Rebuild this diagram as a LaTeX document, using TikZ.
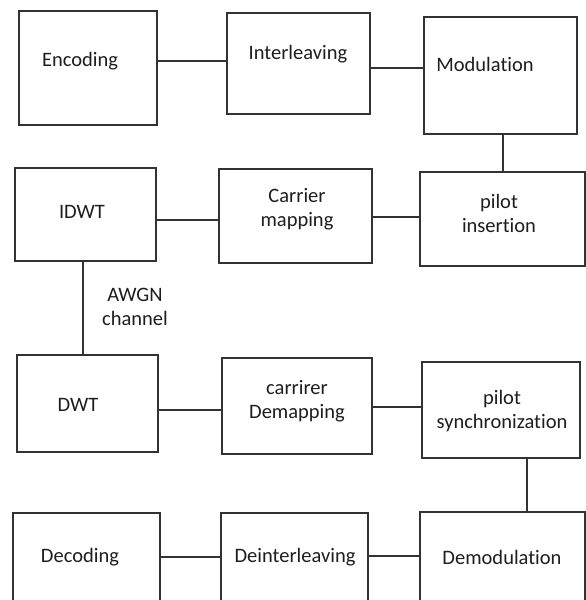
\documentclass[tikz,border=0pt]{standalone}
\usepackage{fontspec}
\setmainfont{Carlito}[Ligatures=NoCommon]
\definecolor{linec}{HTML}{333333}
\definecolor{txtc}{HTML}{1E1E1E}
\begin{document}
\begin{tikzpicture}[x=1pt,y=-1pt,
  blk/.style={draw=linec,line width=1.3pt,inner sep=0pt},
  txt/.style={inner sep=0pt,text=txtc,font=\fontsize{20.5}{24}\selectfont,align=center},
  conn/.style={draw=linec,line width=1.2pt}]
\useasboundingbox (0,0) rectangle (586,600);
\clip (0,0) rectangle (586,600);
\fill[white] (0,0) rectangle (586,600);
% row 1
\node[blk,minimum width=138pt,minimum height=114pt] (enc) at (88,68) {};
\node[txt] (enct) at (80,61) {Encoding};
\node[blk,minimum width=143pt,minimum height=101pt] (intl) at (298.5,63.5) {};
\node[txt] (intlt) at (298,54) {Interleaving};
\node[blk,minimum width=153pt,minimum height=117pt] (mod) at (500.5,75.5) {};
\node[txt] (modt) at (485,64) {Modulation};
% row 2
\node[blk,minimum width=141pt,minimum height=93pt] (idwt) at (85.5,214.5) {};
\node[txt] (idwtt) at (82,212) {IDWT};
\node[blk,minimum width=153pt,minimum height=94pt] (cmap) at (295.5,216) {};
\node[txt] (cmapt) at (297,209) {Carrier\\mapping};
\node[blk,minimum width=165pt,minimum height=94pt] (pilot) at (502.5,219) {};
\node[txt] (pilott) at (499,213) {pilot\\insertion};
% AWGN
\node[txt] (awgn) at (135,307) {AWGN\\channel};
% row 3
\node[blk,minimum width=141pt,minimum height=97pt] (dwt) at (87.5,403.5) {};
\node[txt] (dwtt) at (78,405) {DWT};
\node[blk,minimum width=150pt,minimum height=96pt] (cdem) at (297,406) {};
\node[txt] (cdemt) at (297,401) {carrirer\\Demapping};
\node[blk,minimum width=158pt,minimum height=96pt] (psync) at (501,410) {};
\node[txt] (psynct) at (502,411) {pilot\\synchronization};
% row 4
\node[blk,minimum width=147pt,minimum height=100pt] (dec) at (86.5,563) {};
\node[txt] (dect) at (80,557) {Decoding};
\node[blk,minimum width=147pt,minimum height=100pt] (deint) at (294.5,563) {};
\node[txt] (deintt) at (295,557) {Deinterleaving};
\node[blk,minimum width=165pt,minimum height=100pt] (demod) at (502.5,562) {};
\node[txt] (demodt) at (502,557) {Demodulation};
% connectors
\draw[conn] (enc.east |- 0,61) -- (intl.west |- 0,61);
\draw[conn] (intl.east |- 0,68) -- (mod.west |- 0,68);
\draw[conn] (mod.south -| 503,0) -- (pilot.north -| 503,0);
\draw[conn] (idwt.east |- 0,220) -- (cmap.west |- 0,220);
\draw[conn] (cmap.east |- 0,217) -- (pilot.west |- 0,217);
\draw[conn] (idwt.south -| 83,0) -- (dwt.north -| 83,0);
\draw[conn] (dwt.east |- 0,410) -- (cdem.west |- 0,410);
\draw[conn] (cdem.east |- 0,407) -- (psync.west |- 0,407);
\draw[conn] (psync.south -| 527,0) -- (demod.north -| 527,0);
\draw[conn] (dec.east |- 0,557) -- (deint.west |- 0,557);
\draw[conn] (deint.east |- 0,556) -- (demod.west |- 0,556);
\end{tikzpicture}
\end{document}
